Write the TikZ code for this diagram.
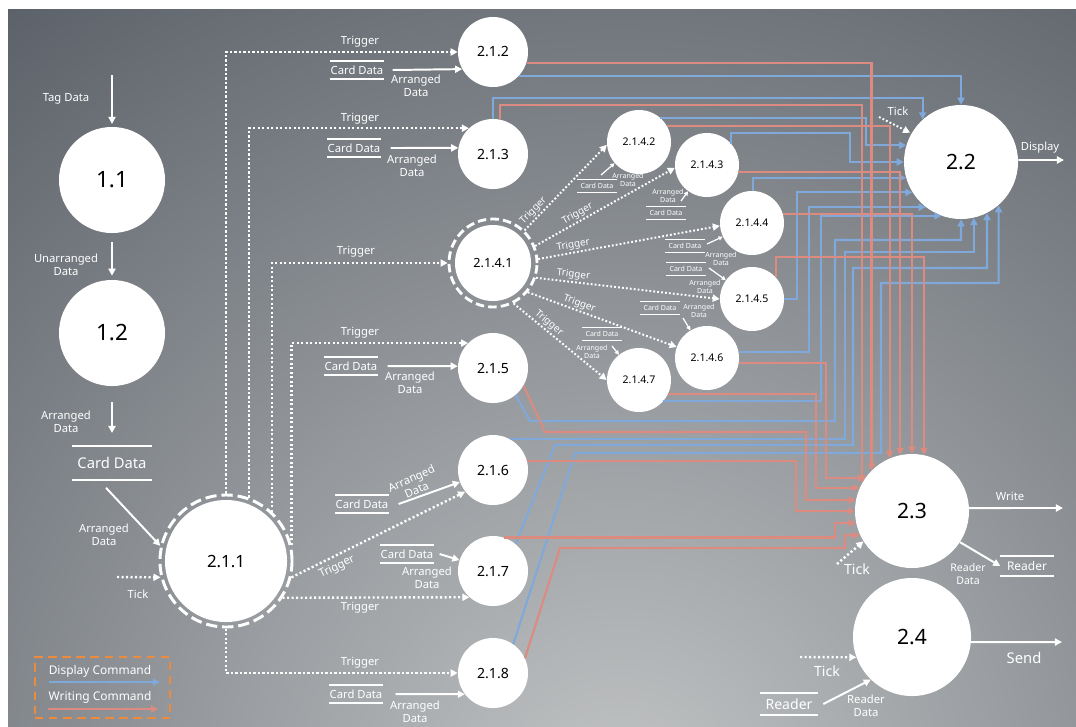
\documentclass[tikz,border=0pt]{standalone}
\usepackage{fontspec}
\setmainfont{Noto Sans}
\usetikzlibrary{arrows.meta}

\definecolor{bgdark}{HTML}{575D65}
\definecolor{bglight}{HTML}{C2C4C5}
\definecolor{dispblue}{HTML}{80A9DB}
\definecolor{writered}{HTML}{DB8B80}
\definecolor{legorange}{HTML}{EC8B3C}

\newcommand{\fsz}[2]{\fontsize{#1}{#2}\selectfont}

\begin{document}
\begin{tikzpicture}[x=0.025cm, y=-0.025cm, >={Triangle[length=5pt,width=5pt]}] % one unit = one pixel of the sketch
\useasboundingbox (0,0) rectangle (1076,726);

% Background with the light patch at the bottom
\fill[white] (0,0) rectangle (1076,726);
\fill[bgdark] (8,9) rectangle (1076,726);
\begin{scope}
\clip (8,9) rectangle (1076,726);
\shade[inner color=bglight, outer color=bgdark] (620,800) circle (1050);
\end{scope}

% Define node styles
\tikzstyle{proc} = [circle, fill=white, inner sep=0pt, text=black]
\tikzstyle{lproc} = [proc, minimum size=2.65cm, font=\fsz{16}{16}]
\tikzstyle{rproc} = [proc, minimum size=2.85cm, font=\fsz{15}{15}]
\tikzstyle{mproc} = [proc, minimum size=1.75cm, font=\fsz{10}{10}]
\tikzstyle{sproc} = [proc, minimum size=1.6cm, font=\fsz{7.5}{7.5}]
\tikzstyle{ringproc} = [circle, draw=white, inner sep=0pt, text=black]
\tikzstyle{lbl} = [text=white, align=center, inner sep=1pt, font=\fsz{8}{9.2}]
\tikzstyle{tinylbl} = [lbl, inner sep=0pt, font=\fsz{5}{5.6}]
\tikzstyle{trglbl} = [lbl, inner sep=0pt, font=\fsz{7}{7}, above=1pt, sloped]
\tikzstyle{datastore} = [text=white, inner sep=0pt, minimum width=1.3cm, minimum height=0.425cm, font=\fsz{8}{8}]
\tikzstyle{tinystore} = [datastore, minimum width=0.98cm, minimum height=0.325cm, font=\fsz{5}{5}]
\tikzstyle{storeline} = [draw=white, line width=1.3pt]

% Define arrow styles
\tikzstyle{flow} = [->, draw=white, line width=1.4pt]
\tikzstyle{tflow} = [-{Triangle[length=3pt,width=3pt]}, draw=white, line width=0.9pt]
\tikzstyle{trig} = [->, draw=white, line width=1.7pt, dash pattern=on 1.5pt off 1.7pt]
\tikzstyle{ttrig} = [->, draw=white, line width=1.4pt, dash pattern=on 1.3pt off 1.5pt]
\tikzstyle{disp} = [->, draw=dispblue, line width=1.5pt]
\tikzstyle{writ} = [->, draw=writered, line width=1.5pt]

% Left column: 1.1 and 1.2
\coordinate (tagin) at (112,75);
\node[lbl] (lTag) at (66,99) {Tag Data};
\node[lproc] (n11) at (112,180) {1.1};
\node[lproc] (n12) at (112,333) {1.2};
\node[lbl] (lUnarr) at (66,265) {Unarranged\\Data};
\node[datastore, minimum width=1.975cm, minimum height=0.825cm, font=\fsz{10.5}{10.5}] (cdL) at (112,463) {Card Data};
\node[lbl] (lArr1) at (66,422) {Arranged\\Data};

\draw[flow, shorten >=0.07cm] (tagin) -- (n11);
\draw[flow, shorten <=0.225cm, shorten >=0.1cm] (n11) -- (n12);
\draw[flow, shorten <=0.4cm, shorten >=0.33cm] (n12) -- (cdL.north);

% 2.1.1 with its dashed ring
\node[ringproc, minimum size=3.3cm, line width=2.1pt, dash pattern=on 8pt off 3.5pt, font=\fsz{12}{12},
  path picture={\fill[white] (path picture bounding box.center) circle (1.525cm);}] (n211) at (226,561) {2.1.1};
\draw[flow] ([shift={(-6,8)}]cdL.south) -- (n211.167);
\node[lbl] (lArr2) at (104,535) {Arranged\\Data};
\coordinate (tick211) at (117,577);
\draw[trig] (tick211) -- (n211.194);
\node[lbl] (lTick1) at (138,594) {Tick};

% Legend
\node[draw=legorange, line width=2pt, dash pattern=on 6pt off 4pt, minimum width=3.375cm, minimum height=1.525cm] (legend) at (102.5,687.5) {};
\node[lbl, font=\fsz{8.5}{8.5}] (lLegD) at (100,671) {Display Command};
\node[lbl, font=\fsz{8.5}{8.5}] (lLegW) at (100,697) {Writing Command};
\coordinate (legDa) at (49,682);
\coordinate (legDb) at (160,682);
\coordinate (legWa) at (48,709);
\coordinate (legWb) at (158,709);
\draw[disp] (legDa) -- (legDb);
\draw[writ] (legWa) -- (legWb);

% Second level processes
\node[mproc] (n212) at (493,52) {2.1.2};
\node[mproc] (n213) at (493,154) {2.1.3};
\node[ringproc, minimum size=2.2cm, line width=2pt, dash pattern=on 6pt off 3pt, font=\fsz{9}{9},
  path picture={\fill[white] (path picture bounding box.center) circle (0.95cm);}] (n2141) at (493,263) {2.1.4.1};
\node[mproc] (n215) at (493,368) {2.1.5};
\node[mproc] (n216) at (493,470) {2.1.6};
\node[mproc] (n217) at (493,571) {2.1.7};
\node[mproc] (n218) at (493,673) {2.1.8};

% Triggers from 2.1.1
\draw[trig] (n211.90) |- (n212.180);
\draw[trig] (n211.70) |- (n213.133);
\draw[trig] (n211.47) |- (n2141.180);
\draw[trig] (n211.14) |- (n215.135);
\draw[trig] (n211.-14) -- (n216.218);
\draw[trig] (n211.-33) -- (n217.228);
\draw[trig] (n211.270) |- (n218.180);
\node[lbl] (lTr1) at (360,42) {Trigger};
\node[lbl] (lTr2) at (360,119) {Trigger};
\node[lbl] (lTr3) at (356,252) {Trigger};
\node[lbl] (lTr4) at (360,333) {Trigger};
\node[lbl, rotate=26] (lTr5) at (337,567) {Trigger};
\node[lbl] (lTr6) at (360,608) {Trigger};
\node[lbl] (lTr7) at (360,663) {Trigger};

% Card Data stores feeding the second level
\node[datastore] (cd212) at (357,70) {Card Data};
\node[datastore] (cd213) at (354,148) {Card Data};
\node[datastore] (cd215) at (351,366) {Card Data};
\node[datastore] (cd216) at (362,504) {Card Data};
\node[datastore] (cd217) at (407,554) {Card Data};
\node[datastore] (cd218) at (356,694) {Card Data};

\draw[flow] ([xshift=0.225cm]cd212.east) -- (n212.209);
\draw[flow] ([xshift=0.25cm]cd213.east) -- (n213.170);
\draw[flow] ([xshift=0.25cm]cd215.east) -- (n215.177);
\draw[flow] ([xshift=0.25cm]cd216.east) -- (n216.200);
\draw[flow] ([xshift=0.15cm]cd217.east) -- (n217.162);
\draw[flow] ([xshift=0.325cm]cd218.east) -- (n218.217);
\node[lbl] (lA212) at (416,86) {Arranged\\Data};
\node[lbl] (lA213) at (412,166) {Arranged\\Data};
\node[lbl] (lA215) at (410,383) {Arranged\\Data};
\node[lbl, rotate=24] (lA216) at (414,484) {Arranged\\Data};
\node[lbl] (lA217) at (427,578) {Arranged\\Data};
\node[lbl] (lA218) at (415,712) {Arranged\\Data};

% Third level around 2.1.4.1
\node[sproc] (n2142) at (639,142) {2.1.4.2};
\node[sproc] (n2143) at (707,165) {2.1.4.3};
\node[sproc] (n2144) at (752,223) {2.1.4.4};
\node[sproc] (n2145) at (752,299) {2.1.4.5};
\node[sproc] (n2146) at (707,358) {2.1.4.6};
\node[sproc] (n2147) at (639,380) {2.1.4.7};

\draw[ttrig] (n2141.46) -- (n2142.185) node[trglbl, pos=0.17] (lT2142) {Trigger};
\draw[ttrig] (n2141.22) -- (n2143.185) node[trglbl, pos=0.33] (lT2143) {Trigger};
\draw[ttrig] (n2141.5) -- (n2144.185) node[trglbl, pos=0.2] (lT2144) {Trigger};
\draw[ttrig] (n2141.-19) -- (n2145.180) node[trglbl, pos=0.2] (lT2145) {Trigger};
\draw[ttrig] (n2141.-40) -- (n2146.160) node[trglbl, pos=0.33] (lT2146) {Trigger};
\draw[ttrig] (n2141.-63) -- (n2147.180) node[trglbl, pos=0.33] (lT2147) {Trigger};

\node[tinystore] (s2142) at (597,186) {Card Data};
\node[tinystore] (s2143) at (666,213) {Card Data};
\node[tinystore] (s2144) at (685,246) {Card Data};
\node[tinystore] (s2145) at (686,269) {Card Data};
\node[tinystore] (s2146) at (660,308) {Card Data};
\node[tinystore] (s2147) at (602,334) {Card Data};

\draw[tflow] ([shift={(4,-11)}]s2142.center) -- (n2142);
\draw[tflow] ([shift={(15,-12)}]s2143.center) -- (n2143);
\draw[tflow] ([shift={(22,-2)}]s2144.center) -- (n2144);
\draw[tflow] ([shift={(23,-1)}]s2145.center) -- (n2145);
\draw[tflow] ([shift={(23,10)}]s2146.center) -- (n2146);
\draw[tflow] ([shift={(10,12)}]s2147.center) -- (n2147);
\node[tinylbl] (lA2142) at (628,180) {Arranged\\Data};
\node[tinylbl] (lA2143) at (668,196) {Arranged\\Data};
\node[tinylbl] (lA2144) at (721,259) {Arranged\\Data};
\node[tinylbl] (lA2145) at (705,287) {Arranged\\Data};
\node[tinylbl] (lA2146) at (699,311) {Arranged\\Data};
\node[tinylbl] (lA2147) at (592,352) {Arranged\\Data};

% Display, write and send processes
\node[rproc] (n22) at (961,162) {2.2};
\node[rproc] (n23) at (912,511) {2.3};
\node[rproc, minimum size=2.95cm] (n24) at (912,637) {2.4};

% Display commands into 2.2
\draw[disp] (n212.-43) -| (n22.90);
\draw[disp] (n213.90) |- (n22.132 |- 0,98) -- (n22.132);
\draw[disp] (n2142.49) -| (866,130) |- (n22.163);
\draw[disp] (n2143.41) |- (850,133) |- (n22.180);
\draw[disp] (n2144.88) |- (n22.196);
\draw[disp] (n2145.0) -| (797,250) |- (n22.212);
\draw[disp] (n2146.11) -| (809,280) |- (n22.232);
\draw[disp] (n2147.-41) -| (821,300) |- (n22.250);
\draw[disp] (n215.-50) -- (530,421) -| (835,240) -| (n22.270);
\draw[disp] (n216.62) -| (845,252) -| (n22.283);
\draw[disp] (n217.50) -- (555,445) -| (853,268) -| (n22.297);
\draw[disp] (n218.55) -- (575,453) -| (881,283) -| (n22.311);

% Writing commands into 2.3
\draw[writ] (n212.-18) -| (n23.135);
\draw[writ] (n213.78) |- (n23.150 |- 0,105) -- (n23.150);
\draw[writ] (n2142.30) -| (n23.113);
\draw[writ] (n2143.-13) -| (n23.102);
\draw[writ] (n2144.16) -| (n23.90);
\draw[writ] (n2145.42) |- (n23.78 |- 0,257) -- (n23.78);
\draw[writ] (n2146.-9) -| (826,420) |- (n23.145);
\draw[writ] (n2147.-25) -| (816,440) |- (n23.156);
\draw[writ] (n215.-30) -- (545,432) -| (806,470) |- (n23.169);
\draw[writ] (n216.15) -| (796,490) |- (n23.180);
\draw[writ] (n217.72) -| (835,530) |- (n23.192);
\draw[writ] (n218.25) -- (560,548) -| (845,540) |- (n23.205);

% Outputs of 2.2
\coordinate (dispout) at (1064,160);
\draw[flow] (n22.2) -- (dispout);
\node[lbl] (lDisplay) at (1040,148) {Display};
\coordinate (tick22) at (879,117);
\draw[ttrig, shorten >=1pt] (tick22) -- (n22.150);
\node[lbl] (lTick22) at (898,111) {Tick};

% Outputs of 2.3
\node[datastore, minimum width=1.325cm, minimum height=0.475cm, font=\fsz{8.5}{8.5}] (rd1) at (1027,566) {Reader};
\coordinate (writeout) at (1063,508);
\draw[flow] (n23.3) -- (writeout);
\node[lbl] (lWrite) at (1010,496) {Write};
\draw[flow] (n23.-33) -- (rd1.west);
\node[lbl, font=\fsz{7.5}{8.6}] (lRD1) at (968,574) {Reader\\Data};
\coordinate (tick23) at (837,564);
\draw[trig] (tick23) -- (n23.212);
\node[lbl, font=\fsz{10}{10}] (lTick23) at (857,569) {Tick};

% Outputs of 2.4
\node[datastore, minimum width=1.45cm, minimum height=0.55cm, font=\fsz{10}{10}] (rd2) at (789,704) {Reader};
\coordinate (sendout) at (1062,642);
\draw[flow] (n24.-5) -- (sendout);
\node[lbl, font=\fsz{10.5}{10.5}] (lSend) at (1024,658) {Send};
\coordinate (tick24) at (800,657);
\draw[trig] (tick24) -- (n24.200);
\node[lbl, font=\fsz{10}{10}] (lTick24) at (827,671) {Tick};
\draw[flow] ([xshift=0.125cm]rd2.east) -- (n24.226);
\node[lbl] (lRD2) at (866,706) {Reader\\Data};

% Lines above and below every data store
\foreach \s in {cdL,cd212,cd213,cd215,cd216,cd217,cd218,rd1,rd2}
  \draw[storeline] (\s.north west) -- (\s.north east) (\s.south west) -- (\s.south east);
\foreach \s in {s2142,s2143,s2144,s2145,s2146,s2147}
  \draw[storeline, line width=0.9pt] (\s.north west) -- (\s.north east) (\s.south west) -- (\s.south east);

\end{tikzpicture}
\end{document}
